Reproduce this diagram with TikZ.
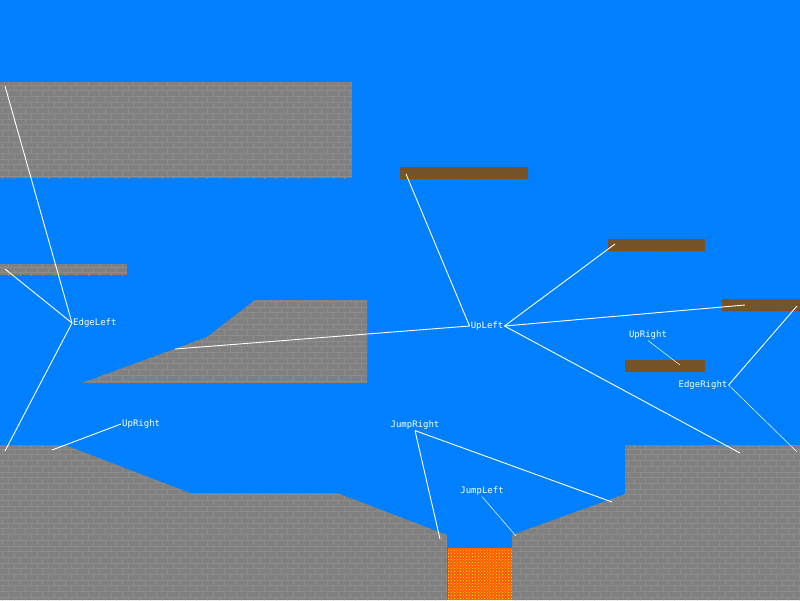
\documentclass[tikz,border=0pt]{standalone}
\usepackage{fontspec}
\setmonofont{DejaVu Sans Mono}
\usetikzlibrary{patterns}
\definecolor{sky}{RGB}{0,128,255}
\definecolor{stone}{RGB}{128,128,128}
\definecolor{wood}{RGB}{120,85,40}
\definecolor{lava}{RGB}{250,90,10}
\tikzset{
    rock/.style={fill=stone, postaction={pattern=bricks, pattern color=black!45}},
    plank/.style={fill=wood, postaction={pattern=crosshatch dots, pattern color=brown!60!black}},
    hot/.style={fill=lava, postaction={pattern=crosshatch dots, pattern color=yellow!80!orange}},
    tag/.style={text=white, font=\ttfamily\fontsize{9}{10}\selectfont, inner sep=1pt},
    ray/.style={white, line width=0.9pt}
}
\begin{document}
\begin{tikzpicture}[x=1pt, y=-1pt]
    \fill[sky] (0,0) rectangle (800,600);
    \useasboundingbox (0,0) rectangle (800,600);

    % Stone blocks
    \fill[rock] (0,82) rectangle (352,178);
    \fill[rock] (0,264) rectangle (127,275);
    \fill[rock] (82,383) -- (207,337) -- (255,300) -- (367,300) -- (367,383) -- cycle;
    \fill[rock] (0,445) -- (65,445) -- (190,493) -- (337,493) -- (447,535) -- (447,600) -- (0,600) -- cycle;
    \fill[rock] (512,600) -- (512,535) -- (625,494) -- (625,445) -- (800,445) -- (800,600) -- cycle;
    % Lava pit
    \fill[hot] (448,548) rectangle (512,600);

    % Wooden platforms
    \fill[plank] (400,167) rectangle (528,179);
    \fill[plank] (608,239) rectangle (705,251);
    \fill[plank] (722,299) rectangle (800,311);
    \fill[plank] (625,360) rectangle (705,372);

    % Labels
    \node[tag, anchor=west] (edgeL) at (72,323) {EdgeLeft};
    \node[tag, anchor=west] (upR1) at (121,424) {UpRight};
    \node[tag] (upL) at (487,326) {UpLeft};
    \node[tag] (upR2) at (648,335) {UpRight};
    \node[tag] (edgeR) at (703,385) {EdgeRight};
    \node[tag] (jumpR) at (415,425) {JumpRight};
    \node[tag] (jumpL) at (482,491) {JumpLeft};

    % Where the hints point
    \coordinate (eL1) at (5,86);
    \coordinate (eL2) at (5,269);
    \coordinate (eL3) at (5,451);
    \coordinate (uR1) at (52,450);
    \coordinate (uL1) at (406,174);
    \coordinate (uL2) at (175,349);
    \coordinate (uL3) at (615,244);
    \coordinate (uL4) at (745,305);
    \coordinate (uL5) at (740,453);
    \coordinate (uR2) at (680,365);
    \coordinate (eR1) at (797,306);
    \coordinate (eR2) at (797,452);
    \coordinate (jR1) at (440,539);
    \coordinate (jR2) at (612,502);
    \coordinate (jL1) at (516,536);

    \draw[ray] (edgeL.west) -- (eL1);
    \draw[ray] (edgeL.west) -- (eL2);
    \draw[ray] (edgeL.west) -- (eL3);
    \draw[ray] (upR1.west) -- (uR1);
    \draw[ray] (upL.west) -- (uL1);
    \draw[ray] (upL.west) -- (uL2);
    \draw[ray] (upL.east) -- (uL3);
    \draw[ray] (upL.east) -- (uL4);
    \draw[ray] (upL.east) -- (uL5);
    \draw[ray, line width=0.5pt] (upR2.south) -- (uR2);
    \draw[ray] (edgeR.east) -- (eR1);
    \draw[ray, line width=0.5pt] (edgeR.east) -- (eR2);
    \draw[ray] (jumpR.south) -- (jR1);
    \draw[ray] (jumpR.south) -- (jR2);
    \draw[ray, line width=0.5pt] (jumpL.south) -- (jL1);
\end{tikzpicture}
\end{document}
